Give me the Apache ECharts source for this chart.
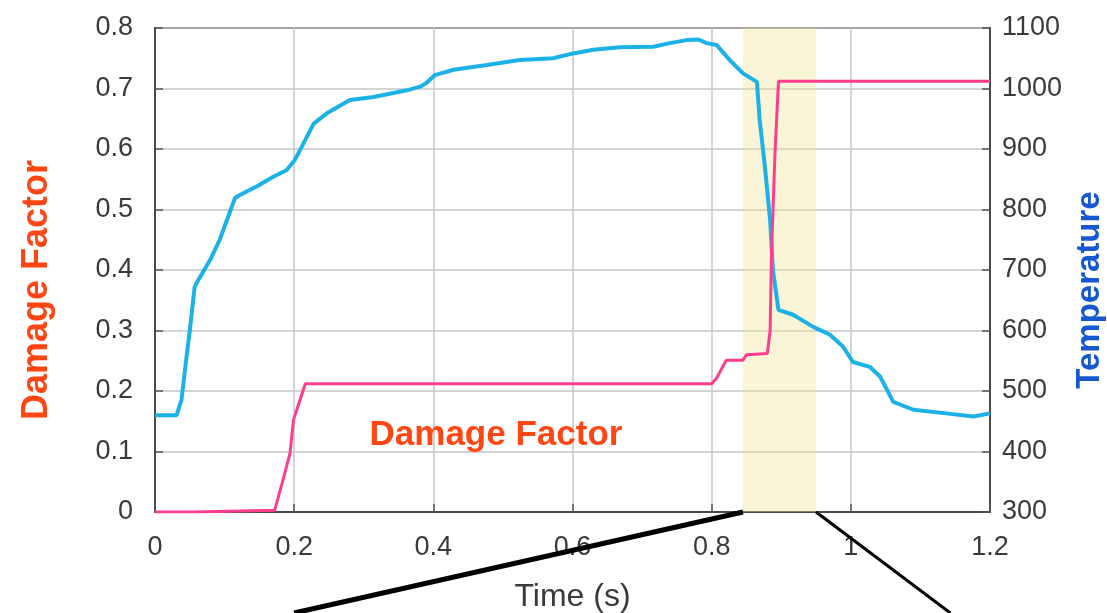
<!DOCTYPE html>
<html>
<head>
<meta charset="utf-8">
<script src="https://cdn.jsdelivr.net/npm/echarts@6/dist/echarts.min.js"></script>
<style>
html,body{margin:0;padding:0;background:#fff;}
#chart{width:1107px;height:613px;}
</style>
</head>
<body>
<div id="chart"></div>
<script>
// ---- data ----
const xTicks = [0, 0.2, 0.4, 0.6, 0.8, 1, 1.2];
const damageTicks = [0, 0.1, 0.2, 0.3, 0.4, 0.5, 0.6, 0.7, 0.8];
const tempTicks = [300, 400, 500, 600, 700, 800, 900, 1000, 1100];

const tempTime = [0, 0.031, 0.038, 0.046, 0.050, 0.057, 0.062, 0.079, 0.093, 0.115, 0.122, 0.146, 0.170, 0.189, 0.201, 0.211, 0.228, 0.247, 0.280, 0.314, 0.362, 0.381, 0.390, 0.402, 0.429, 0.477, 0.524, 0.572, 0.601, 0.630, 0.668, 0.716, 0.740, 0.764, 0.781, 0.793, 0.807, 0.826, 0.845, 0.865, 0.869, 0.876, 0.884, 0.888, 0.896, 0.917, 0.946, 0.970, 0.989, 1.003, 1.027, 1.042, 1.061, 1.090, 1.137, 1.176, 1.2];
const tempValues = [460, 460, 485, 563, 600, 672, 683, 716, 750, 819, 824, 838, 854, 865, 882, 904, 942, 959, 981, 986, 997, 1003, 1009, 1022, 1031, 1039, 1047, 1050, 1058, 1064, 1068, 1069, 1075, 1080, 1081, 1075, 1072, 1047, 1025, 1011, 948, 876, 783, 700, 634, 626, 606, 593, 573, 548, 540, 524, 482, 469, 463, 458, 463];

const damageTime = [0, 0.055, 0.056, 0.172, 0.184, 0.194, 0.199, 0.216, 0.800, 0.807, 0.821, 0.845, 0.850, 0.880, 0.884, 0.886, 0.891, 0.896, 1.2];
const damageValues = [0, 0, 0.003, 0.003, 0.053, 0.097, 0.152, 0.212, 0.212, 0.221, 0.251, 0.251, 0.260, 0.262, 0.300, 0.428, 0.593, 0.712, 0.712];

const highlightRange = [0.845, 0.95];

const axisNames = { x: 'Time (s)', left: 'Damage Factor', right: 'Temperature' };
const annotationText = 'Damage Factor';
const annotationAt = [0.49, 0.126];

// ---- chart ----
const FONT = '"Liberation Sans", Arial, sans-serif';
const chart = echarts.init(document.getElementById('chart'), null, { renderer: 'canvas' });

const tempData = tempTime.map((t, i) => [t, tempValues[i]]);
const damageData = damageTime.map((t, i) => [t, damageValues[i]]);

const labelStyle = { color: '#3a3a3a', fontSize: 27, fontFamily: FONT };
const tickStyle = { show: true, inside: true, length: 8, lineStyle: { color: '#555', width: 1.5 } };
const splitStyle = { show: true, lineStyle: { color: '#c6c6c6', width: 1.5 } };
const axisLineStyle = { show: true, lineStyle: { color: '#4a4a4a', width: 2 } };

chart.setOption({
  animation: false,
  backgroundColor: '#fff',
  grid: { left: 155, right: 117, top: 28, bottom: 101, outerBoundsMode: 'none', containLabel: false, show: true, borderColor: '#4a4a4a', borderWidth: 2, backgroundColor: 'transparent' },
  xAxis: {
    type: 'value', min: 0, max: 1.2, interval: 0.2,
    name: axisNames.x, nameLocation: 'middle', nameGap: 69,
    nameTextStyle: { color: '#3a3a3a', fontSize: 32, fontFamily: FONT },
    axisLine: axisLineStyle, axisTick: tickStyle, splitLine: splitStyle,
    axisLabel: { ...labelStyle, margin: 22, formatter: v => String(+v.toFixed(1)) }
  },
  yAxis: [
    {
      type: 'value', min: 0, max: 0.8, interval: 0.1, position: 'left',
      name: axisNames.left, nameLocation: 'middle', nameRotate: 90, nameGap: 100,
      nameTextStyle: { color: '#ff4613', fontSize: 36, fontWeight: 'bold', fontFamily: FONT, padding: [0, 40, 0, 0] },
      axisLine: axisLineStyle, axisTick: tickStyle, splitLine: splitStyle,
      axisLabel: { ...labelStyle, margin: 22, formatter: v => String(+v.toFixed(1)) }
    },
    {
      type: 'value', min: 300, max: 1100, interval: 100, position: 'right',
      name: axisNames.right, nameLocation: 'middle', nameRotate: 90, nameGap: 79,
      nameTextStyle: { color: '#1558cf', fontSize: 33, fontWeight: 'bold', fontFamily: FONT, padding: [0, 40, 0, 0] },
      axisLine: axisLineStyle, axisTick: { ...tickStyle }, splitLine: { show: false },
      axisLabel: { ...labelStyle, margin: 12, formatter: v => String(v) }
    }
  ],
  series: [
    {
      name: 'Temperature', type: 'line', yAxisIndex: 1, data: tempData,
      showSymbol: false, symbol: 'none', z: 3,
      lineStyle: { color: '#1cb2e8', width: 4 },
      markArea: {
        silent: true,
        itemStyle: { color: 'rgba(242,225,140,0.35)' },
        data: [[{ xAxis: highlightRange[0] }, { xAxis: highlightRange[1] }]]
      }
    },
    {
      name: 'Damage Factor', type: 'line', yAxisIndex: 0, data: damageData,
      showSymbol: false, symbol: 'none', z: 4,
      lineStyle: { color: '#ff3d8e', width: 3 }
    }
  ]
});

function addGraphics() {
  const s = chart.convertToPixel({ xAxisIndex: 0, yAxisIndex: 0 }, [highlightRange[0], 0]);
  const e = chart.convertToPixel({ xAxisIndex: 0, yAxisIndex: 0 }, [highlightRange[1], 0]);
  const a = chart.convertToPixel({ xAxisIndex: 0, yAxisIndex: 0 }, annotationAt);
  const H = chart.getHeight();
  chart.setOption({
    graphic: [
      { type: 'line', shape: { x1: s[0], y1: s[1], x2: s[0] - (H - s[1]) / 0.225, y2: H }, style: { stroke: '#000', lineWidth: 5 }, z: 10 },
      { type: 'line', shape: { x1: e[0], y1: e[1], x2: e[0] + (H - e[1]) * 1.33, y2: H }, style: { stroke: '#000', lineWidth: 3 }, z: 10 },
      { type: 'text', x: a[0], y: a[1], style: { text: annotationText, fill: '#ff4613', font: 'bold 35px ' + FONT, textAlign: 'center', textVerticalAlign: 'middle' }, z: 10 }
    ]
  });
}
addGraphics();
</script>
</body>
</html>
